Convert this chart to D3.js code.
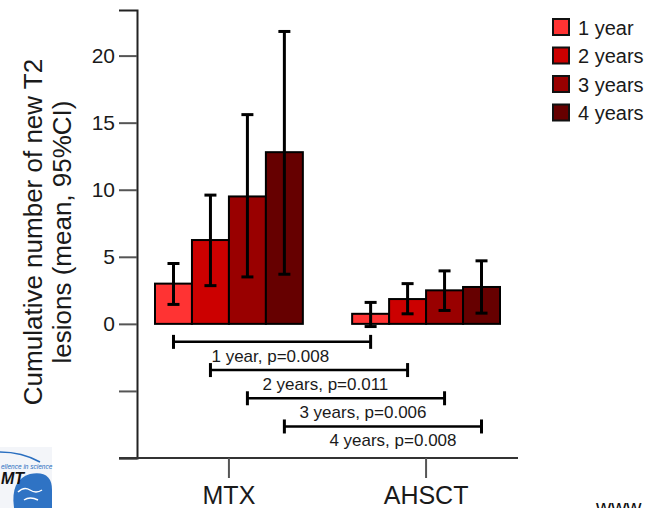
<!DOCTYPE html>
<html>
<head>
<meta charset="utf-8">
<script src="https://cdn.jsdelivr.net/npm/d3@7"></script>
<style>
  html, body { margin: 0; padding: 0; background: #fff; }
  svg { display: block; font-family: "Liberation Sans", Arial, sans-serif; }
</style>
</head>
<body>
<div id="chart"></div>
<script>
// Groups, follow-up years and colours
const groups = ["MTX", "AHSCT"];
const years = ["1 year", "2 years", "3 years", "4 years"];
const yearColors = ["#ff3333", "#cc0000", "#990000", "#660000"];

// Mean and 95% CI
const meanMTX = [3.0, 6.25, 9.5, 12.8];
const lowMTX = [1.45, 2.85, 3.5, 3.7];
const highMTX = [4.5, 9.6, 15.6, 21.8];
const meanAHSCT = [0.75, 1.85, 2.5, 2.75];
const lowAHSCT = [-0.2, 0.75, 1.0, 0.8];
const highAHSCT = [1.6, 3.0, 3.95, 4.7];

// Between-group comparisons
const pValues = ["0.008", "0.011", "0.006", "0.008"];
const compLabels = ["1 year", "2 years", "3 years", "4 years"];

const yTicks = [-10, -5, 0, 5, 10, 15, 20];
const yLabelled = [0, 5, 10, 15, 20];

const width = 648, height = 508;

const rows = [];
groups.forEach((g, gi) => {
    const m = gi === 0 ? meanMTX : meanAHSCT;
    const lo = gi === 0 ? lowMTX : lowAHSCT;
    const hi = gi === 0 ? highMTX : highAHSCT;
    years.forEach((yr, i) => rows.push({ group: g, year: yr, i, mean: m[i], low: lo[i], high: hi[i] }));
});

const svg = d3.select("#chart").append("svg")
    .attr("width", width)
    .attr("height", height);

// Scales
const x = d3.scaleBand().domain(groups).range([155, 500]).paddingInner(0.25).paddingOuter(0);
const xSub = d3.scaleBand().domain(years).range([0, x.bandwidth()]).padding(0);
const y = d3.scaleLinear().domain([-10, 23.4]).range([458, 10]);

// Y axis
const yAxis = svg.append("g")
    .attr("transform", "translate(137,0)")
    .call(d3.axisLeft(y)
        .tickValues(yTicks)
        .tickSize(18)
        .tickPadding(4)
        .tickFormat(d => yLabelled.includes(d) ? d : ""));
yAxis.select(".domain").attr("stroke", "#222").attr("stroke-width", 2);
yAxis.selectAll(".tick line").attr("stroke", "#555").attr("stroke-width", 2);
yAxis.selectAll(".tick text").attr("fill", "#1a1a1a").style("font-size", "21px");

// X axis
svg.append("line")
    .attr("x1", 119).attr("x2", 518)
    .attr("y1", y(-10)).attr("y2", y(-10))
    .attr("stroke", "#333").attr("stroke-width", 2);
const xAxis = svg.append("g")
    .attr("transform", `translate(0,${y(-10)})`)
    .call(d3.axisBottom(x).tickSize(20).tickPadding(8));
xAxis.select(".domain").remove();
xAxis.selectAll(".tick line").attr("stroke", "#555").attr("stroke-width", 2);
xAxis.selectAll(".tick text").attr("fill", "#1a1a1a").style("font-size", "25px");

// Y axis title
const yTitle = svg.append("text")
    .attr("transform", "translate(42,232) rotate(-90)")
    .attr("text-anchor", "middle")
    .attr("fill", "#1a1a1a")
    .style("font-size", "26px");
yTitle.append("tspan").attr("x", 0).attr("y", 0).text("Cumulative number of new T2");
yTitle.append("tspan").attr("x", 0).attr("y", 29).text("lesions (mean, 95%CI)");

// Bars
svg.append("g")
    .selectAll("rect")
    .data(rows)
    .join("rect")
    .attr("x", d => x(d.group) + xSub(d.year))
    .attr("y", d => y(d.mean))
    .attr("width", xSub.bandwidth())
    .attr("height", d => y(0) - y(d.mean))
    .attr("fill", d => yearColors[d.i])
    .attr("stroke", "#000")
    .attr("stroke-width", 2);

// Error bars
const cx = d => x(d.group) + xSub(d.year) + xSub.bandwidth() / 2;
const err = svg.append("g").attr("stroke", "#000").attr("stroke-width", 3);
err.selectAll("line.v").data(rows).join("line").attr("class", "v")
    .attr("x1", cx).attr("x2", cx)
    .attr("y1", d => y(d.low)).attr("y2", d => y(d.high));
err.selectAll("line.hi").data(rows).join("line").attr("class", "hi")
    .attr("x1", d => cx(d) - 6).attr("x2", d => cx(d) + 6)
    .attr("y1", d => y(d.high)).attr("y2", d => y(d.high));
err.selectAll("line.lo").data(rows).join("line").attr("class", "lo")
    .attr("x1", d => cx(d) - 6).attr("x2", d => cx(d) + 6)
    .attr("y1", d => y(d.low)).attr("y2", d => y(d.low));

// Comparison brackets (MTX bar vs AHSCT bar of the same year)
const labelShift = [38, 52, 52, 45];
const comps = years.map((yr, i) => ({
    x1: x("MTX") + xSub(yr) + xSub.bandwidth() / 2,
    x2: x("AHSCT") + xSub(yr) + xSub.bandwidth() / 2,
    yy: y(0) + 18 + i * 28.2,
    label: `${compLabels[i]}, p=${pValues[i]}`,
    i
}));
const br = svg.append("g");
br.selectAll("line.h").data(comps).join("line").attr("class", "h")
    .attr("x1", d => d.x1).attr("x2", d => d.x2)
    .attr("y1", d => d.yy).attr("y2", d => d.yy)
    .attr("stroke", "#000").attr("stroke-width", 2.5);
br.selectAll("line.l").data(comps).join("line").attr("class", "l")
    .attr("x1", d => d.x1).attr("x2", d => d.x1)
    .attr("y1", d => d.yy - 7).attr("y2", d => d.yy + 7)
    .attr("stroke", "#000").attr("stroke-width", 3);
br.selectAll("line.r").data(comps).join("line").attr("class", "r")
    .attr("x1", d => d.x2).attr("x2", d => d.x2)
    .attr("y1", d => d.yy - 7).attr("y2", d => d.yy + 7)
    .attr("stroke", "#000").attr("stroke-width", 3);
br.selectAll("text").data(comps).join("text")
    .attr("x", d => d.x1 + labelShift[d.i])
    .attr("y", d => d.yy + 20)
    .attr("fill", "#1a1a1a")
    .style("font-size", "17px")
    .text(d => d.label);

// Legend
const legend = svg.append("g").attr("transform", "translate(553,19)");
const item = legend.selectAll("g").data(years).join("g")
    .attr("transform", (d, i) => `translate(0,${i * 28.5})`);
item.append("rect")
    .attr("width", 16).attr("height", 16)
    .attr("fill", (d, i) => yearColors[i])
    .attr("stroke", "#111").attr("stroke-width", 2);
item.append("text")
    .attr("x", 25).attr("y", 15.5)
    .attr("fill", "#1a1a1a")
    .style("font-size", "20px")
    .text(d => d);

// Slide leftovers: logo corner and web address
const logo = svg.append("g");
logo.append("rect").attr("x", 0).attr("y", 447).attr("width", 52).attr("height", 61).attr("fill", "#f3f5f9");
logo.append("path").attr("d", "M0,452 Q22,452 40,462").attr("fill", "none").attr("stroke", "#2a6fc0").attr("stroke-width", 1.5);
logo.append("path").attr("d", "M14,508 Q10,480 30,474 Q52,470 52,490 L52,508 Z").attr("fill", "#2f73c4");
logo.append("path").attr("d", "M18,492 q6,-6 12,-2 q6,4 12,0 M24,500 q6,-4 14,0").attr("fill", "none").attr("stroke", "#fff").attr("stroke-width", 1.5);
logo.append("text").attr("x", 1).attr("y", 469).attr("fill", "#2a6fc0")
    .style("font-size", "6.5px").style("font-style", "italic").text("ellence in science");
logo.append("text").attr("x", 1).attr("y", 484).attr("fill", "#111")
    .style("font-size", "16px").style("font-weight", "bold").style("font-style", "italic").text("MT");
svg.append("text").attr("x", 596).attr("y", 514).attr("fill", "#111")
    .style("font-size", "21px").text("www");
</script>
</body>
</html>
